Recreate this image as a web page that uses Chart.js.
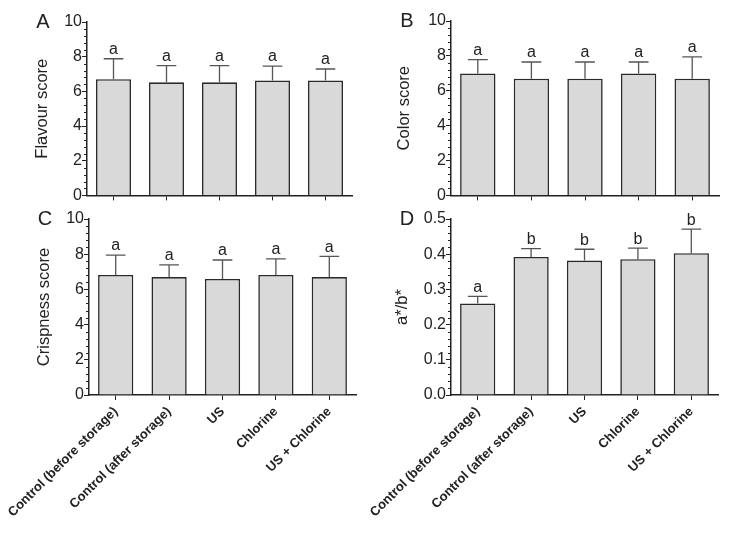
<!DOCTYPE html>
<html lang="en">
<head>
  <meta charset="UTF-8">
  <title>Sensory and colour scores</title>
  <script src="https://cdn.jsdelivr.net/npm/chart.js"></script>
  <style>
    body { margin: 0; background: #fff; }
    #wrap { position: relative; width: 738px; height: 555px; overflow: hidden; }
    canvas { position: absolute; }
  </style>
</head>
<body>
  <div id="wrap">
    <canvas id="panelA" width="369" height="205" style="left:0;top:0"></canvas>
    <canvas id="panelB" width="369" height="205" style="left:369px;top:0"></canvas>
    <canvas id="panelC" width="369" height="350" style="left:0;top:205px"></canvas>
    <canvas id="panelD" width="369" height="350" style="left:369px;top:205px"></canvas>
  </div>

  <script>
    // treatments
    const categories = ['Control (before storage)', 'Control (after storage)', 'US', 'Chlorine', 'US + Chlorine'];

    // mean and SD
    const flavourMean = [6.70, 6.52, 6.52, 6.63, 6.63];
    const flavourSd   = [1.18, 0.96, 0.96, 0.83, 0.66];
    const flavourSig  = ['a', 'a', 'a', 'a', 'a'];

    const colorMean = [6.99, 6.69, 6.69, 6.99, 6.69];
    const colorSd   = [0.79, 0.96, 0.96, 0.66, 1.25];
    const colorSig  = ['a', 'a', 'a', 'a', 'a'];

    const crispMean = [6.82, 6.70, 6.59, 6.82, 6.70];
    const crispSd   = [1.13, 0.69, 1.08, 0.91, 1.18];
    const crispSig  = ['a', 'a', 'a', 'a', 'a'];

    const abMean = [0.260, 0.392, 0.382, 0.386, 0.403];
    const abSd   = [0.020, 0.024, 0.032, 0.031, 0.068];
    const abSig  = ['a', 'b', 'b', 'b', 'b'];

    const scoreTicks = { max: 10, step: 2, decimals: 0 };
    const ratioTicks = { max: 0.5, step: 0.1, decimals: 1 };

    const FONT = 'Arial, "Liberation Sans", sans-serif';
    const INK = '#222';

    // upper error bar + significance letter, minor ticks, panel letter
    const extras = {
      id: 'extras',
      afterDatasetsDraw(chart, args, opts) {
        const ctx = chart.ctx;
        const y = chart.scales.y;
        const meta = chart.getDatasetMeta(0);
        ctx.save();
        meta.data.forEach((bar, i) => {
          const top = y.getPixelForValue(opts.mean[i] + opts.sd[i]);
          const half = bar.width * 0.28;
          ctx.strokeStyle = '#555';
          ctx.lineWidth = 1.3;
          ctx.beginPath();
          ctx.moveTo(bar.x, bar.y);
          ctx.lineTo(bar.x, top);
          ctx.moveTo(bar.x - half, top);
          ctx.lineTo(bar.x + half, top);
          ctx.stroke();
          ctx.fillStyle = INK;
          ctx.font = '16px ' + FONT;
          ctx.textAlign = 'center';
          ctx.textBaseline = 'bottom';
          ctx.fillText(opts.sig[i], bar.x, top - 1);
        });
        const minor = opts.step / 5;
        ctx.strokeStyle = INK;
        ctx.lineWidth = 1;
        for (let k = 1; k * minor < y.max - 1e-9; k++) {
          if (k % 5 === 0) continue;
          const py = Math.round(y.getPixelForValue(k * minor)) + 0.5;
          ctx.beginPath();
          ctx.moveTo(y.right - 3, py);
          ctx.lineTo(y.right, py);
          ctx.stroke();
        }
        ctx.font = '20px ' + FONT;
        ctx.fillStyle = INK;
        ctx.textAlign = 'center';
        ctx.textBaseline = 'middle';
        ctx.fillText(opts.letter, chart.chartArea.left - 44, chart.chartArea.top);
        ctx.restore();
      }
    };

    function makePanel(id, cfg) {
      return new Chart(document.getElementById(id), {
        type: 'bar',
        data: {
          labels: categories,
          datasets: [{
            data: cfg.mean,
            backgroundColor: '#d9d9d9',
            borderColor: '#2a2a2a',
            borderWidth: 1.6,
            categoryPercentage: 1,
            barPercentage: 0.66
          }]
        },
        options: {
          responsive: false,
          animation: false,
          layout: { padding: { top: cfg.padTop, right: cfg.padRight, left: 0, bottom: 0 } },
          plugins: {
            legend: { display: false },
            tooltip: { enabled: false },
            extras: { mean: cfg.mean, sd: cfg.sd, sig: cfg.sig, step: cfg.ticks.step, letter: cfg.letter }
          },
          scales: {
            x: {
              grid: { offset: false, drawOnChartArea: false, drawTicks: true, tickLength: 5, tickColor: INK },
              border: { color: INK, width: 1.5 },
              ticks: {
                display: cfg.showLabels,
                minRotation: 45,
                maxRotation: 45,
                padding: 4,
                color: INK,
                font: { family: FONT, size: 13, weight: 'bold' }
              },
              afterFit(s) {
                s.height = cfg.xHeight;
                s.paddingLeft = 0;
                s.paddingRight = 0;
              }
            },
            y: {
              min: 0,
              max: cfg.ticks.max,
              grid: { drawOnChartArea: false, drawTicks: true, tickLength: 5, tickColor: INK },
              border: { color: INK, width: 1.5 },
              ticks: {
                stepSize: cfg.ticks.step,
                padding: 0,
                color: INK,
                font: { family: FONT, size: 16 },
                callback: v => Number(v).toFixed(cfg.ticks.decimals)
              },
              title: {
                display: true,
                text: cfg.title,
                color: INK,
                font: { family: FONT, size: 16.5 },
                padding: { top: cfg.titlePad, bottom: 0 }
              },
              afterFit(s) { s.width = cfg.yWidth; }
            }
          }
        },
        plugins: [extras]
      });
    }

    makePanel('panelA', {
      mean: flavourMean, sd: flavourSd, sig: flavourSig, ticks: scoreTicks,
      title: 'Flavour score', letter: 'A', titlePad: 33,
      yWidth: 87, padTop: 22, padRight: 17, xHeight: 7, showLabels: false
    });
    makePanel('panelB', {
      mean: colorMean, sd: colorSd, sig: colorSig, ticks: scoreTicks,
      title: 'Color score', letter: 'B', titlePad: 26,
      yWidth: 82, padTop: 21, padRight: 19, xHeight: 7, showLabels: false
    });
    makePanel('panelC', {
      mean: crispMean, sd: crispSd, sig: crispSig, ticks: scoreTicks,
      title: 'Crispness score', letter: 'C', titlePad: 35,
      yWidth: 89, padTop: 14, padRight: 13, xHeight: 160, showLabels: true
    });
    makePanel('panelD', {
      mean: abMean, sd: abSd, sig: abSig, ticks: ratioTicks,
      title: 'a*/b*', letter: 'D', titlePad: 24,
      yWidth: 82, padTop: 14, padRight: 20, xHeight: 160, showLabels: true
    });
  </script>
</body>
</html>
